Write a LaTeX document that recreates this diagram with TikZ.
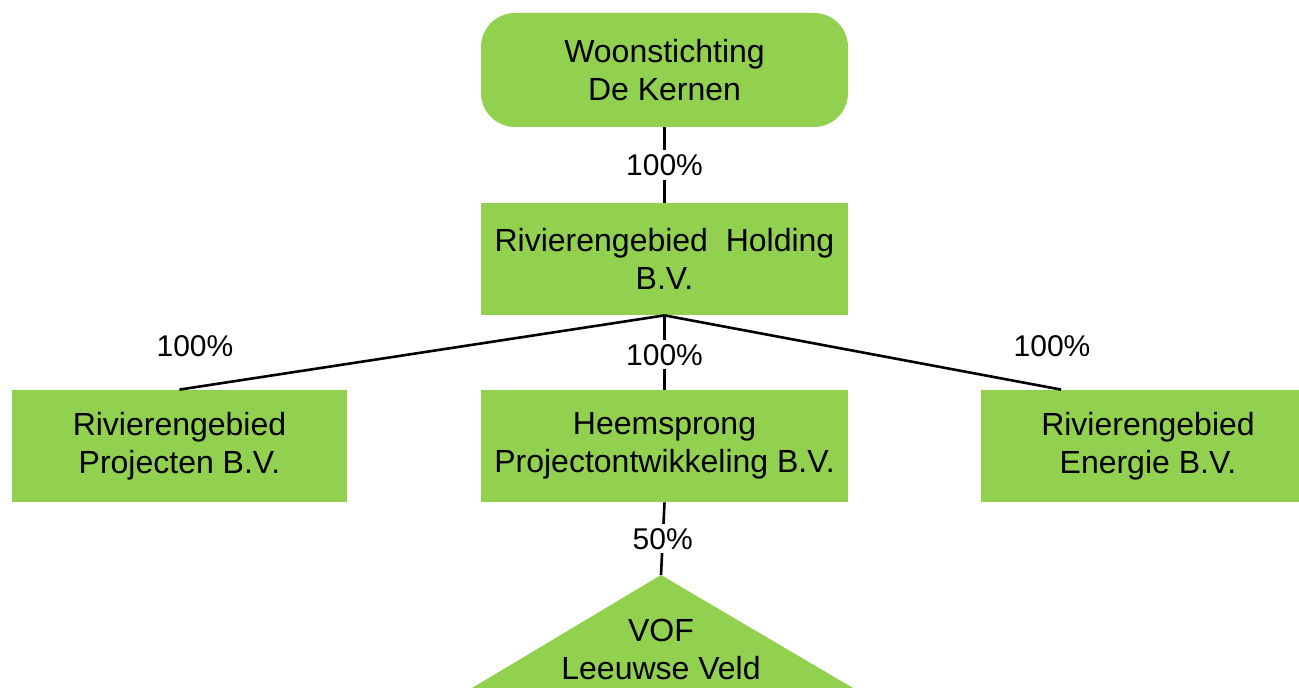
\documentclass[tikz,border=0pt]{standalone}
\usepackage{fontspec}
\setmainfont{Liberation Sans}
\usetikzlibrary{positioning}
\definecolor{orggreen}{RGB}{146,208,80}

\begin{document}
\begin{tikzpicture}[
    x=0.5pt, y=-0.5pt,
    org/.style={
        fill=orggreen,
        minimum width=#1,
        minimum height=56pt,
        align=center,
        inner sep=0pt,
        font=\fontsize{16}{19}\selectfont
    },
    org/.default=183.5pt,
    pct/.style={fill=white, inner sep=2pt, font=\fontsize{15}{18}\selectfont},
    link/.style={line width=1.3pt}
]
  \useasboundingbox (0,0) rectangle (1299,688);

  \node[org, rounded corners=17pt, minimum height=57pt] (woon) at (664.5,70) {Woonstichting\\De Kernen};
  \node[org] (holding) at (664.5,259) {Rivierengebied~ Holding\\B.V.};

  \node[org] (heem) at (664.5,446) {Heemsprong\\Projectontwikkeling B.V.};
  \node[org=167.5pt] (proj) at (179.5,446) {Rivierengebied\\Projecten B.V.};
  \node[org=167.5pt] (energie) at (1148,446) {Rivierengebied\\Energie B.V.};

  % VOF triangle, cut off by the page edge
  \coordinate (vof_top) at (661,575);
  \fill[orggreen] (vof_top) -- (472,688) -- (853,688) -- cycle;
  \node[align=center, font=\fontsize{16}{19}\selectfont] (vof) at (661,649) {VOF\\Leeuwse Veld};

  \draw[link] (woon.south) -- node[pct]{100\%} (holding.north);
  \draw[link] (holding.south) -- node[pct, pos=0.53]{100\%} (heem.north);
  \draw[link] (holding.south) -- (proj.north);
  \draw[link] (holding.south) -- ([xshift=40.5pt]energie.north west);
  \draw[link] (heem.south) -- node[pct]{50\%} (vof_top);

  \node[pct, fill=none] (pct_proj) at (195,346) {100\%};
  \node[pct, fill=none] (pct_energie) at (1052,346) {100\%};
\end{tikzpicture}
\end{document}
